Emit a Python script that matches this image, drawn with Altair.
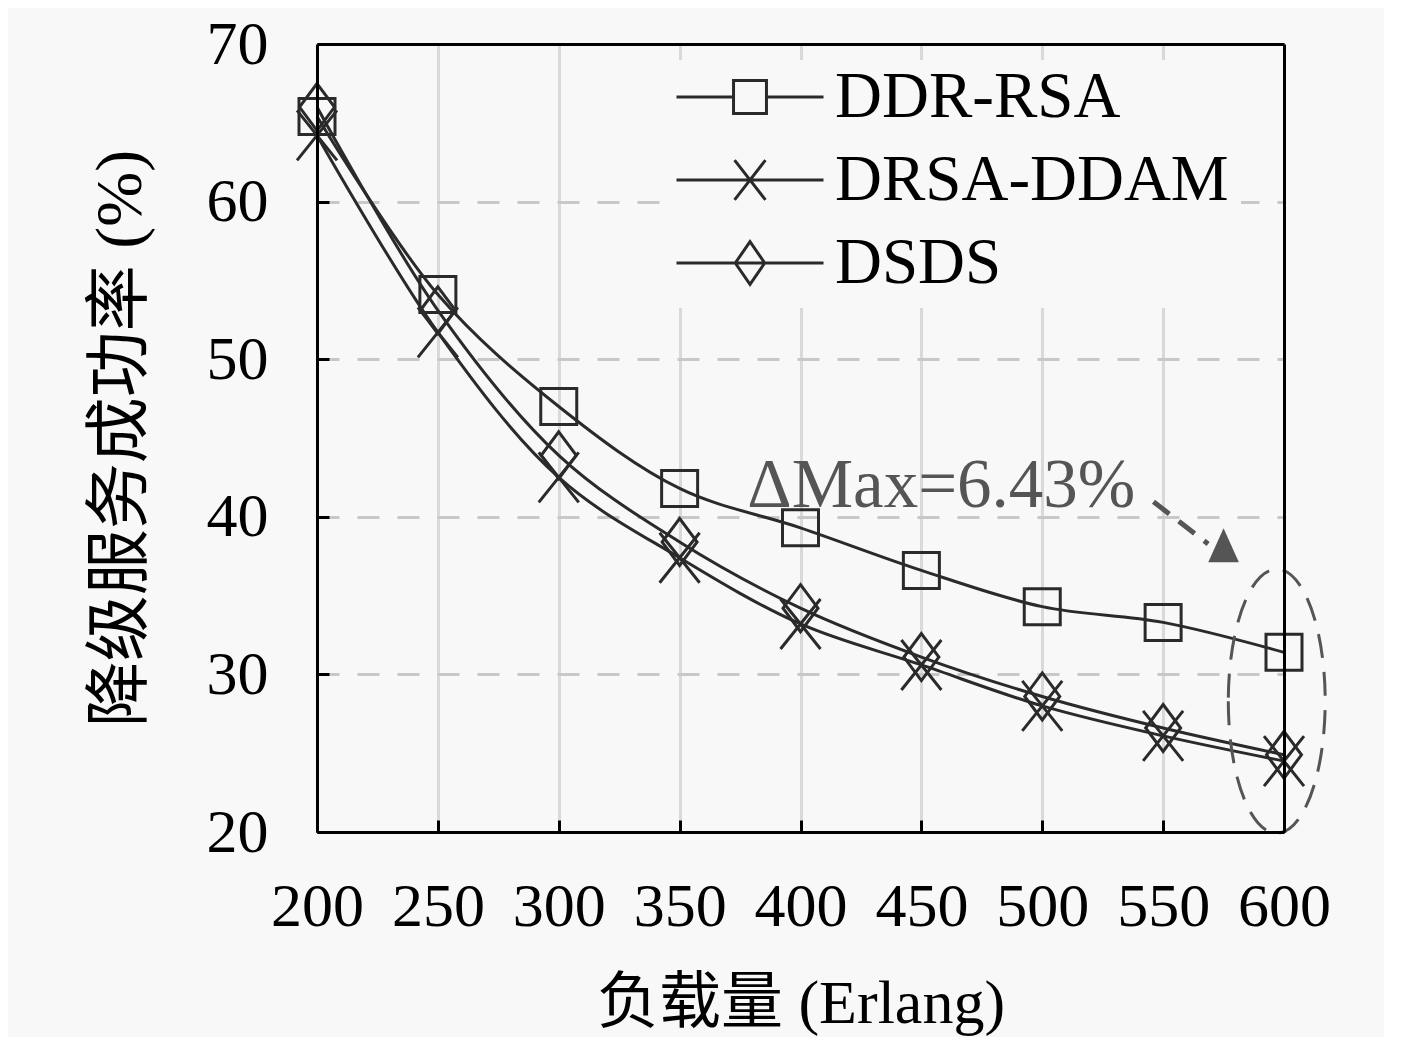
import altair as alt
import pandas as pd

# ---------------- data ----------------
loads = [200, 250, 300, 350, 400, 450, 500, 550, 600]
ddr_rsa = [65.4, 54.1, 47.0, 41.8, 39.3, 36.6, 34.3, 33.3, 31.4]
drsa_ddam = [64.2, 51.7, 42.5, 37.4, 33.2, 30.6, 28.0, 26.1, 24.5]
dsds = [66.0, 53.1, 43.9, 38.4, 34.2, 31.1, 28.6, 26.6, 24.9]
series_names = ["DDR-RSA", "DRSA-DDAM", "DSDS"]

x_ticks = [200, 250, 300, 350, 400, 450, 500, 550, 600]
y_ticks = [20, 30, 40, 50, 60, 70]
x_title = "负载量 (Erlang)"
y_title = "降级服务成功率 (%)"

annotation_text = ["ΔMax=6.43%"]
annotation_x = [378]
annotation_y = [40.6]
arrow_x = [546]
arrow_y = [40.96]
arrow_x2 = [568.6]
arrow_y2 = [38.28]
arrow_head_x = [575]
arrow_head_y = [38.2]
ellipse_x = [597]
ellipse_y = [28.3]

rows = []
for name, vals in zip(series_names, [ddr_rsa, drsa_ddam, dsds]):
    for l, v in zip(loads, vals):
        rows.append({"series": name, "load": l, "value": v})
df = pd.DataFrame(rows)

ann_df = pd.DataFrame({"x": annotation_x, "y": annotation_y, "t": annotation_text})
arrow_df = pd.DataFrame({"x": arrow_x, "y": arrow_y, "x2": arrow_x2, "y2": arrow_y2})
head_df = pd.DataFrame({"x": arrow_head_x, "y": arrow_head_y})
ell_df = pd.DataFrame({"x": ellipse_x, "y": ellipse_y})

# ---------------- style ----------------
FONT = "Liberation Serif"
CJK = "Liberation Serif, Noto Sans CJK SC"
INK = "#2a2a2a"
BG = "#f8f8f8"
W, H = 967, 788

marker_paths = [
    "M-0.72,-0.72H0.72V0.72H-0.72Z",
    "M-0.8,-1L0.8,1M-0.8,1L0.8,-1",
    "M0,-0.94L0.7,0L0,0.94L-0.7,0Z",
]
legend_paths = [
    "M-1,0H-0.224M0.224,0H1M-0.224,-0.224H0.224V0.224H-0.224Z",
    "M-1,0H1M-0.21,-0.27L0.21,0.27M-0.21,0.27L0.21,-0.27",
    "M-1,0H1M0,-0.29L0.2,0L0,0.29L-0.2,0Z",
]

xs = alt.Scale(domain=[200, 600], nice=False, zero=False)
ys = alt.Scale(domain=[20, 70], nice=False, zero=False)

frame_tick = dict(grid=False, labels=False, domain=True, domainColor="black", domainWidth=3,
                  ticks=True, tickSize=12, tickWidth=3, tickColor="black", title=None, zindex=1)
frame_only = dict(grid=False, labels=False, domain=True, domainColor="black", domainWidth=3,
                  ticks=False, title=None, zindex=1)

lines = alt.Chart(df).mark_line(interpolate="catmull-rom", strokeWidth=3, color=INK).encode(
    x=alt.X("load:Q", scale=xs, axis=alt.Axis(
        orient="bottom", values=x_ticks, grid=True, gridColor="#d9d9d9", gridWidth=3,
        ticks=False, domain=False, labelFont=FONT, labelFontSize=62, labelColor="black",
        labelPadding=44, labelFlush=False, labelOverlap=False,
        title=x_title, titleFont=CJK, titleFontSize=62, titleFontWeight="normal",
        titleColor="black", titlePadding=36)),
    y=alt.Y("value:Q", scale=ys, axis=alt.Axis(
        orient="left", values=y_ticks, grid=True, gridColor="#c8c8c8", gridDash=[22, 18],
        gridWidth=3, ticks=False, domain=False, labelFont=FONT, labelFontSize=62,
        labelColor="black", labelPadding=49, labelFlush=False, labelOverlap=False,
        title=y_title, titleFont=CJK, titleFontSize=66, titleFontWeight="normal",
        titleColor="black", titlePadding=52)),
    detail="series:N",
)

points = alt.Chart(df).mark_point(filled=False, size=2500, strokeWidth=3, color=INK, opacity=1).encode(
    x=alt.X("load:Q", scale=xs, axis=alt.Axis(orient="top", offset=-H, values=x_ticks, **frame_tick)),
    y=alt.Y("value:Q", scale=ys, axis=alt.Axis(orient="right", offset=-W, values=y_ticks, **frame_tick)),
    shape=alt.Shape("series:N", scale=alt.Scale(domain=series_names, range=marker_paths), legend=None),
)

legend_layer = alt.Chart(df).transform_filter("datum.value < 0").mark_point(
    filled=False, size=21609, strokeWidth=3, color=INK, opacity=1
).encode(
    x=alt.X("load:Q", scale=xs, axis=alt.Axis(orient="top", values=x_ticks, **frame_only)),
    y=alt.Y("value:Q", scale=ys, axis=alt.Axis(orient="right", values=y_ticks, **frame_only)),
    shape=alt.Shape("series:N", scale=alt.Scale(domain=series_names, range=legend_paths),
                    legend=alt.Legend(
                        orient="none", legendX=346, legendY=16, title=None,
                        labelFont=FONT, labelFontSize=65, labelColor="black", labelLimit=0,
                        fillColor=BG, padding=12, clipHeight=50, rowPadding=18,
                        labelOffset=10, symbolSize=21609, symbolStrokeWidth=3,
                        symbolStrokeColor=INK, symbolFillColor="transparent",
                        symbolOpacity=1)),
)

text = alt.Chart(ann_df).mark_text(align="left", baseline="alphabetic", font=FONT,
                                   fontSize=69, color="#555555").encode(
    x=alt.X("x:Q", scale=xs, axis=None),
    y=alt.Y("y:Q", scale=ys, axis=None),
    text="t:N",
)

arrow = alt.Chart(arrow_df).mark_rule(strokeDash=[20, 12], strokeWidth=5, color="#555555").encode(
    x=alt.X("x:Q", scale=xs, axis=None),
    y=alt.Y("y:Q", scale=ys, axis=None),
    x2="x2:Q",
    y2="y2:Q",
)

head = alt.Chart(head_df).mark_point(shape="M0,-1L0.9,1L-0.9,1Z", size=1156, filled=True,
                                     color="#555555", opacity=1).encode(
    x=alt.X("x:Q", scale=xs, axis=None),
    y=alt.Y("y:Q", scale=ys, axis=None),
)

ellipse = alt.Chart(ell_df).mark_point(
    shape="M-0.367,0A0.367,1 0 1,0 0.367,0A0.367,1 0 1,0 -0.367,0Z",
    size=69696, filled=False, strokeDash=[24, 14], strokeWidth=3, color="#555555", opacity=1
).encode(
    x=alt.X("x:Q", scale=xs, axis=None),
    y=alt.Y("y:Q", scale=ys, axis=None),
)

chart = alt.layer(lines, points, legend_layer, text, arrow, head, ellipse).resolve_scale(
    shape="independent"
).resolve_axis(
    x="independent", y="independent"
).properties(
    width=W, height=H, background=BG,
    padding={"left": 309, "top": 36, "right": 100, "bottom": 205},
    autosize=alt.AutoSizeParams(type="none"),
).configure_view(stroke="transparent", fill=BG)

chart.save("out.html", embed_options={"renderer": "svg", "actions": False})
